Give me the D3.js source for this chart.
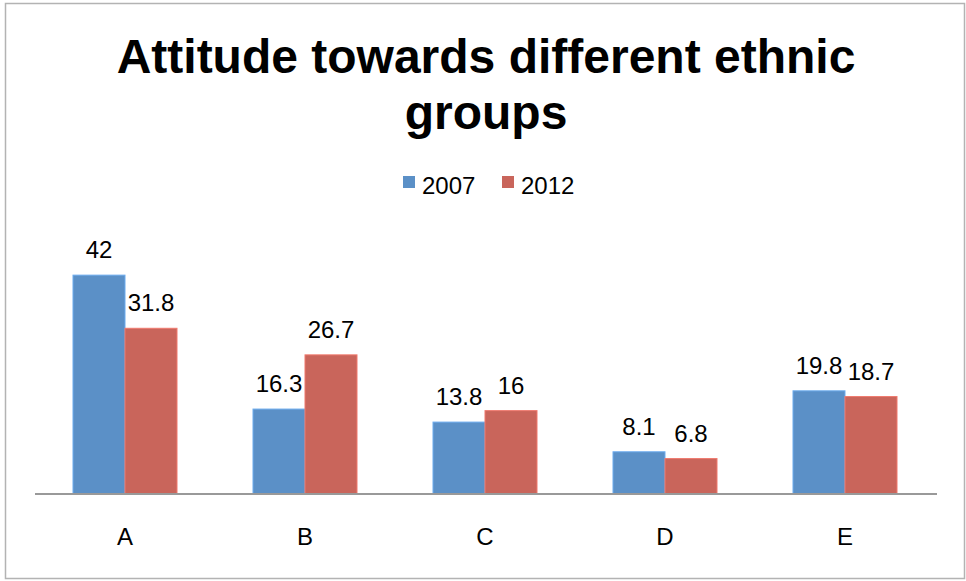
<!DOCTYPE html>
<html>
<head>
<meta charset="utf-8">
<script src="https://cdn.jsdelivr.net/npm/d3@7"></script>
<style>
  html, body { margin: 0; padding: 0; background: #fff; }
  svg { display: block; font-family: Arial, "Liberation Sans", Helvetica, sans-serif; }
</style>
</head>
<body>
<svg id="chart" width="966" height="581"></svg>
<script>
// Attitude scores per ethnic group, two survey years
const categories = ["A", "B", "C", "D", "E"];
const seriesNames = ["2007", "2012"];
const values2007 = [42, 16.3, 13.8, 8.1, 19.8];
const values2012 = [31.8, 26.7, 16, 6.8, 18.7];
const seriesColors = ["#5B90C7", "#C9655B"];
const titleLines = ["Attitude towards different ethnic", "groups"];

const svg = d3.select("#chart");

// outer chart frame
svg.append("rect")
  .attr("x", 5.5).attr("y", 3.5)
  .attr("width", 959).attr("height", 575)
  .attr("fill", "#fff")
  .attr("stroke", "#b3b3b3")
  .attr("stroke-width", 1.5);

const plot = { left: 35, right: 935, axisEnd: 937, top: 259.5, bottom: 494 };

const x0 = d3.scaleBand()
  .domain(categories)
  .range([plot.left, plot.right])
  .paddingInner(0.4222)
  .paddingOuter(0.2111);

const x1 = d3.scaleBand()
  .domain(seriesNames)
  .range([0, x0.bandwidth()]);

const y = d3.scaleLinear()
  .domain([0, 45])
  .range([plot.bottom, plot.top]);

const rows = categories.map((c, i) => ({
  category: c,
  values: [
    { series: seriesNames[0], value: values2007[i], color: seriesColors[0] },
    { series: seriesNames[1], value: values2012[i], color: seriesColors[1] }
  ]
}));

// title
svg.append("g").selectAll("text")
  .data(titleLines)
  .join("text")
  .attr("x", 486)
  .attr("y", (d, i) => 73 + i * 56)
  .attr("text-anchor", "middle")
  .attr("font-size", 48)
  .attr("font-weight", "bold")
  .attr("fill", "#000")
  .text(d => d);

// legend
const legend = svg.append("g");
const legendItems = [
  { name: seriesNames[0], color: seriesColors[0], x: 403 },
  { name: seriesNames[1], color: seriesColors[1], x: 502 }
];
legendItems.forEach(it => {
  legend.append("rect")
    .attr("x", it.x).attr("y", 176)
    .attr("width", 12).attr("height", 12)
    .attr("fill", it.color);
  legend.append("text")
    .attr("x", it.x + 19).attr("y", 194)
    .attr("font-size", 24)
    .attr("fill", "#000")
    .text(it.name);
});

// bars
const groups = svg.append("g").selectAll("g")
  .data(rows)
  .join("g")
  .attr("transform", d => `translate(${x0(d.category)},0)`);

groups.selectAll("rect")
  .data(d => d.values)
  .join("rect")
  .attr("x", d => x1(d.series))
  .attr("y", d => y(d.value))
  .attr("width", x1.bandwidth())
  .attr("height", d => y(0) - y(d.value))
  .attr("fill", d => d.color)
  .attr("stroke", d => d3.color(d.color).brighter(0.5))
  .attr("stroke-width", 1);

// value labels
groups.selectAll("text")
  .data(d => d.values)
  .join("text")
  .attr("x", d => x1(d.series) + x1.bandwidth() / 2)
  .attr("y", d => y(d.value) - 17)
  .attr("text-anchor", "middle")
  .attr("font-size", 24)
  .attr("fill", "#000")
  .text(d => d.value);

// category axis
const xAxis = svg.append("g")
  .attr("transform", `translate(0,${plot.bottom})`)
  .call(d3.axisBottom(x0).tickSize(0).tickPadding(34));
xAxis.select(".domain")
  .attr("d", `M${plot.left},0H${plot.axisEnd}`)
  .attr("stroke", "#999")
  .attr("stroke-width", 2);
xAxis.selectAll("text")
  .attr("font-size", 24)
  .attr("font-family", "Arial, 'Liberation Sans', Helvetica, sans-serif")
  .attr("fill", "#000");
</script>
</body>
</html>
